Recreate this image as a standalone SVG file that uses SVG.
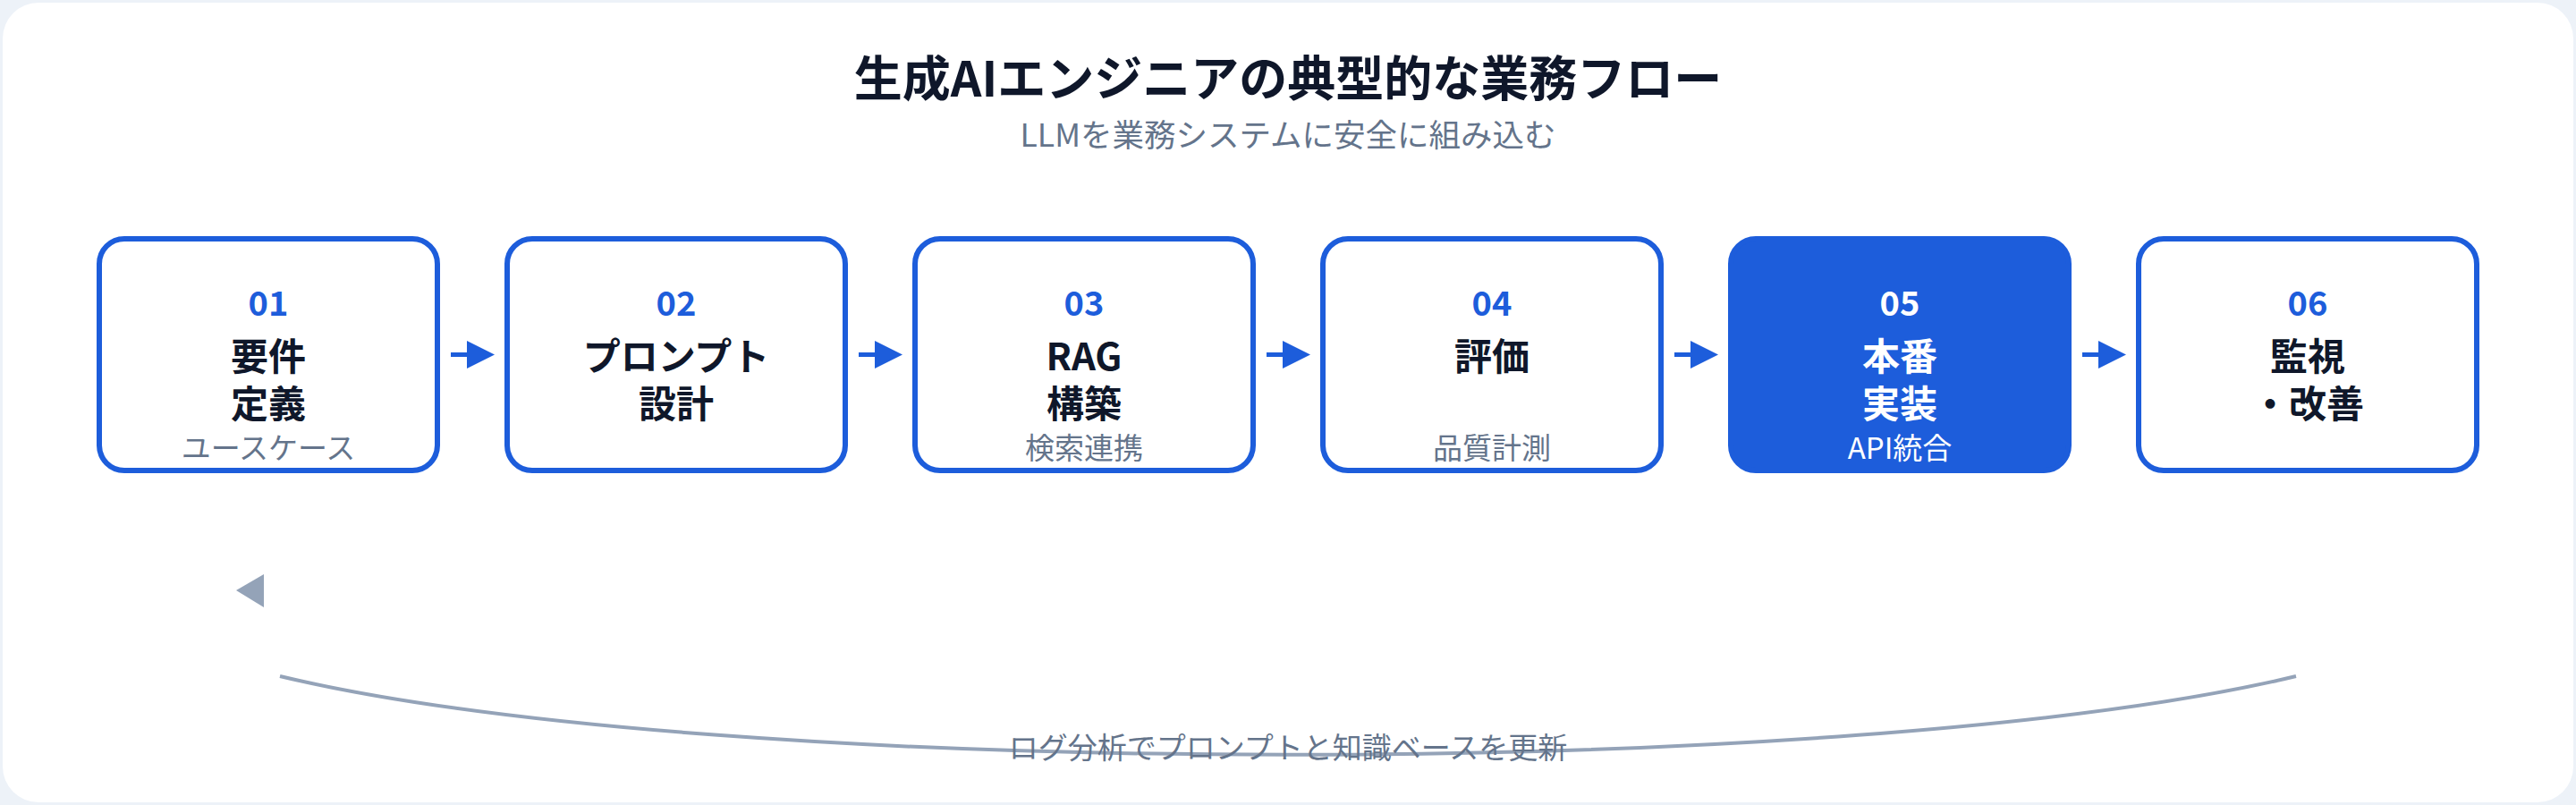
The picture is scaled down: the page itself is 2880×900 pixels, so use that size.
<svg xmlns="http://www.w3.org/2000/svg" width="2880" height="900" viewBox="0 0 2880 900">
  <defs>
    <style>
      text { font-family: "Noto Sans CJK JP", "Noto Sans", sans-serif; text-anchor: middle; }
      .title { font-size: 54px; font-weight: 700; fill: #0F172A; }
      .subtitle { font-size: 35.5px; font-weight: 400; fill: #64748B; }
      .box { fill: #FFFFFF; stroke: #1D5DDB; stroke-width: 6; }
      .box-active { fill: #1D5DDB; stroke: #1D5DDB; stroke-width: 6; }
      .num { font-size: 38px; font-weight: 700; fill: #1D5DDB; }
      .label { font-size: 42px; font-weight: 700; fill: #0F172A; }
      .sub { font-size: 33px; font-weight: 400; fill: #64748B; }
      .active .num, .active .label, .active .sub { fill: #FFFFFF; }
      .flow-line { stroke: #1D5DDB; stroke-width: 5; fill: none; }
      .flow-head { fill: #1D5DDB; }
      .loop { stroke: #94A3B8; stroke-width: 4; fill: none; }
      .loop-head { fill: #94A3B8; }
      .caption { font-size: 33px; font-weight: 400; fill: #64748B; }
    </style>
  </defs>

  <rect x="0" y="0" width="2880" height="900" fill="#EDF2F8"/>
  <rect x="3" y="3" width="2874" height="894" rx="40" ry="40" fill="#FFFFFF"/>

  <g id="title">
    <text class="title" x="1440" y="108">生成AIエンジニアの典型的な業務フロー</text>
    <text class="subtitle" x="1440" y="164">LLMを業務システムに安全に組み込む</text>
  </g>

  <g id="connectors">
    <path class="flow-line" d="M504 396.5 H524"/>
    <polygon class="flow-head" points="522,381 553,396.5 522,412"/>
    <path class="flow-line" d="M960 396.5 H980"/>
    <polygon class="flow-head" points="978,381 1009,396.5 978,412"/>
    <path class="flow-line" d="M1416 396.5 H1436"/>
    <polygon class="flow-head" points="1434,381 1465,396.5 1434,412"/>
    <path class="flow-line" d="M1872 396.5 H1892"/>
    <polygon class="flow-head" points="1890,381 1921,396.5 1890,412"/>
    <path class="flow-line" d="M2328 396.5 H2348"/>
    <polygon class="flow-head" points="2346,381 2377,396.5 2346,412"/>
    <path class="loop" d="M313 756 C800 873 2080 873 2567 756"/>
    <polygon class="loop-head" points="264,660 295,642 295,679"/>
    <text class="caption" x="1440" y="848">ログ分析でプロンプトと知識ベースを更新</text>
  </g>

  <g id="node-01">
    <rect class="box" x="111" y="267" width="378" height="259" rx="28" ry="28"/>
    <text class="num" x="300" y="353">01</text>
    <text class="label" x="300" y="414">要件</text>
    <text class="label" x="300" y="467">定義</text>
    <text class="sub" x="300" y="513">ユースケース</text>
  </g>

  <g id="node-02">
    <rect class="box" x="567" y="267" width="378" height="259" rx="28" ry="28"/>
    <text class="num" x="756" y="353">02</text>
    <text class="label" x="756" y="414">プロンプト</text>
    <text class="label" x="756" y="467">設計</text>
  </g>

  <g id="node-03">
    <rect class="box" x="1023" y="267" width="378" height="259" rx="28" ry="28"/>
    <text class="num" x="1212" y="353">03</text>
    <text class="label" x="1212" y="414">RAG</text>
    <text class="label" x="1212" y="467">構築</text>
    <text class="sub" x="1212" y="513">検索連携</text>
  </g>

  <g id="node-04">
    <rect class="box" x="1479" y="267" width="378" height="259" rx="28" ry="28"/>
    <text class="num" x="1668" y="353">04</text>
    <text class="label" x="1668" y="414">評価</text>
    <text class="sub" x="1668" y="513">品質計測</text>
  </g>

  <g id="node-05" class="active">
    <rect class="box-active" x="1935" y="267" width="378" height="259" rx="28" ry="28"/>
    <text class="num" x="2124" y="353">05</text>
    <text class="label" x="2124" y="414">本番</text>
    <text class="label" x="2124" y="467">実装</text>
    <text class="sub" x="2124" y="513">API統合</text>
  </g>

  <g id="node-06">
    <rect class="box" x="2391" y="267" width="378" height="259" rx="28" ry="28"/>
    <text class="num" x="2580" y="353">06</text>
    <text class="label" x="2580" y="414">監視</text>
    <text class="label" x="2580" y="467">・改善</text>
  </g>
</svg>
